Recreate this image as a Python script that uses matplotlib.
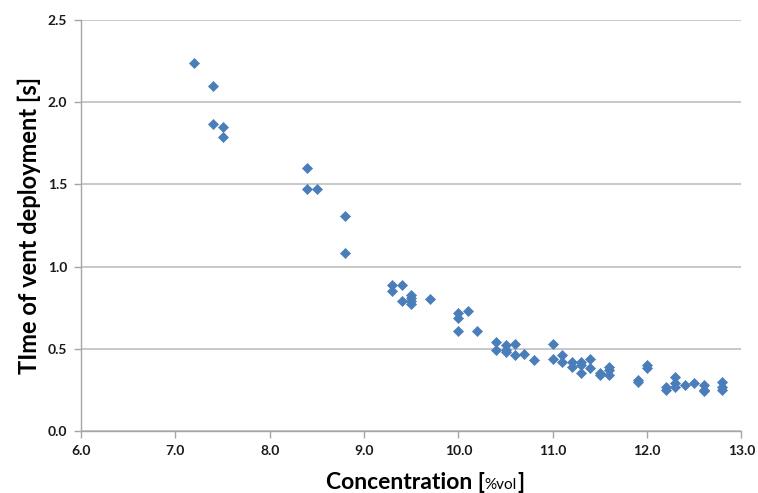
import matplotlib.pyplot as plt
import numpy as np

# Concentration [%vol] and time of vent deployment [s]
concentration = [
    7.2, 7.4, 7.4, 7.5, 7.5,
    8.4, 8.4, 8.5, 8.8, 8.8,
    9.3, 9.3, 9.4, 9.4, 9.5, 9.5, 9.5, 9.5, 9.7,
    10.0, 10.0, 10.1, 10.0, 10.2,
    10.4, 10.4, 10.5, 10.5, 10.5, 10.6, 10.6, 10.7, 10.8,
    11.0, 11.0, 11.1, 11.1, 11.2, 11.2, 11.3, 11.3, 11.3, 11.4, 11.4,
    11.5, 11.5, 11.6, 11.6, 11.6,
    11.9, 11.9, 12.0, 12.0,
    12.2, 12.2, 12.3, 12.3, 12.3, 12.4, 12.5, 12.6, 12.6, 12.6,
    12.8, 12.8, 12.8,
]
time_s = [
    2.24, 2.10, 1.87, 1.85, 1.79,
    1.60, 1.47, 1.47, 1.31, 1.08,
    0.89, 0.85, 0.89, 0.79, 0.83, 0.81, 0.79, 0.77, 0.80,
    0.72, 0.69, 0.73, 0.61, 0.61,
    0.54, 0.49, 0.52, 0.49, 0.48, 0.53, 0.46, 0.47, 0.43,
    0.53, 0.44, 0.46, 0.42, 0.42, 0.39, 0.42, 0.40, 0.35, 0.44, 0.38,
    0.35, 0.34, 0.39, 0.37, 0.34,
    0.31, 0.30, 0.40, 0.38,
    0.27, 0.25, 0.33, 0.29, 0.27, 0.28, 0.29, 0.28, 0.25, 0.24,
    0.30, 0.27, 0.25,
]

xticks = np.arange(6.0, 13.01, 1.0)
yticks = np.arange(0.0, 2.51, 0.5)

FONT = 'Lato'
GRID = '#BFBFBF'
AXIS = '#A6A6A6'

fig = plt.figure(figsize=(7.58, 4.93), dpi=100)
ax = fig.add_axes([0.107, 0.126, 0.871, 0.833])

ax.scatter(concentration, time_s, marker='D', s=26, color='#4A7EBB',
           edgecolors='#4A7EBB', linewidths=0.5, zorder=3)

ax.set_xlim(6.0, 13.0)
ax.set_ylim(0.0, 2.5)
ax.set_xticks(xticks)
ax.set_yticks(yticks)
ax.set_xticklabels([f'{v:.1f}' for v in xticks])
ax.set_yticklabels([f'{v:.1f}' for v in yticks])
ax.grid(axis='y', color=GRID, linewidth=1.2, zorder=0)
ax.set_axisbelow(True)

for side in ['top', 'right']:
    ax.spines[side].set_visible(False)
for side in ['left', 'bottom']:
    ax.spines[side].set_color(AXIS)
    ax.spines[side].set_linewidth(1.0)

ax.tick_params(axis='both', direction='out', length=5, width=1.0, color=AXIS,
               labelsize=10, pad=5)
for lbl in ax.get_xticklabels() + ax.get_yticklabels():
    lbl.set_fontfamily(FONT)
    lbl.set_fontweight('bold')
    lbl.set_color('#1a1a1a')

ax.set_ylabel('TIme of vent deployment [s]', fontsize=17, fontweight='bold',
              fontfamily=FONT, labelpad=5)

# x label with smaller "%vol" part
fig.canvas.draw()
renderer = fig.canvas.get_renderer()
pieces = [('Concentration [', 16.5, 'bold'), ('%vol', 11, 'normal'), (']', 16.5, 'bold')]
texts = []
for s, size, weight in pieces:
    t = fig.text(0, 0, s, fontsize=size, fontweight=weight, fontfamily=FONT,
                 ha='left', va='baseline')
    texts.append(t)
widths = [t.get_window_extent(renderer).width for t in texts]
total = sum(widths)
x0 = 425 - total / 2
base_y = 493 - 489
for t, w in zip(texts, widths):
    t.set_position((x0 / 758, base_y / 493))
    x0 += w

fig.savefig('out.png', dpi=100)
